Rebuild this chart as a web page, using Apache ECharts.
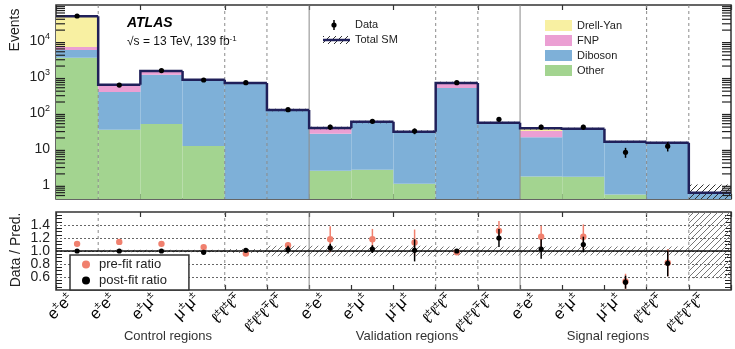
<!DOCTYPE html>
<html>
<head>
<meta charset="utf-8">
<script src="https://cdn.jsdelivr.net/npm/echarts@6/dist/echarts.min.js"></script>
<style>
html, body { margin: 0; padding: 0; background: #fff; }
#chart { width: 735px; height: 349px; }
</style>
</head>
<body>
<div id="chart"></div>
<script>
// bins: 6 control, 5 validation, 5 signal regions
var binLabels = ['e±e±', 'e±e±', 'e±μ±', 'μ±μ±', 'ℓ±ℓ±ℓ∓', 'ℓ±ℓ±ℓ∓ℓ∓',
                 'e±e±', 'e±μ±', 'μ±μ±', 'ℓ±ℓ±ℓ∓', 'ℓ±ℓ±ℓ∓ℓ∓',
                 'e±e±', 'e±μ±', 'μ±μ±', 'ℓ±ℓ±ℓ∓', 'ℓ±ℓ±ℓ∓ℓ∓'];
var regionNames = ['Control regions', 'Validation regions', 'Signal regions'];

// stacked backgrounds (events)
var other    = [3400, 34, 49, 12, 0.2, 0.1, 2.45, 2.6, 1.07, 0.3, 0.2, 1.7, 1.67, 0.53, 0.2, 0.02];
var diboson  = [2200, 346, 1090, 758, 640, 115, 23.5, 50.4, 26.9, 490, 49.8, 19.3, 32.3, 14.6, 14.2, 0.58];
var fnp      = [1200, 220, 330, 60, 40, 5, 12, 3, 2, 190, 3, 10, 2, 0.5, 0.3, 0];
var drellYan = [42200, 0, 0, 0, 0, 0, 0, 0, 0, 0, 0, 6, 0, 0, 0, 0];

// observed data
var dataEvents  = [49500, 590, 1500, 820, 690, 122, 40, 58, 31, 690, 66, 40, 40, 8, 11.8, null];
var dataErrUp   = [220, 24, 39, 29, 26, 11, 6.3, 7.6, 5.6, 26, 8.1, 6.3, 6.3, 2.6, 3.6, null];
var dataErrDown = [220, 24, 39, 29, 26, 11, 6.3, 7.6, 5.6, 26, 8.1, 6.3, 6.3, 2.4, 3.4, null];

// relative uncertainty of total SM
var uncUp   = [0.01, 0.02, 0.02, 0.02, 0.03, 0.08, 0.08, 0.08, 0.08, 0.07, 0.07, 0.07, 0.07, 0.07, 0.07, 0.7];
var uncDown = [0.01, 0.02, 0.02, 0.02, 0.03, 0.08, 0.08, 0.08, 0.08, 0.07, 0.07, 0.07, 0.07, 0.07, 0.07, 0.42];

// ratio panel
var preFitRatio  = [1.11, 1.14, 1.11, 1.06, 0.96, 1.09, 1.18, 1.18, 1.13, 0.98, 1.31, 1.22, 1.22, 0.53, 0.82, null];
var preFitErr    = [0.01, 0.02, 0.02, 0.02, 0.02, 0.05, 0.2, 0.16, 0.2, 0.03, 0.15, 0.17, 0.19, 0.12, 0.21, null];
var postFitRatio = [1.0, 1.0, 1.0, 0.98, 1.01, 1.02, 1.05, 1.03, 1.01, 1.0, 1.2, 1.03, 1.1, 0.52, 0.81, null];
var postFitErr   = [0.01, 0.02, 0.01, 0.02, 0.02, 0.06, 0.06, 0.06, 0.17, 0.02, 0.14, 0.15, 0.12, 0.1, 0.2, null];

// bin edges with separators
var dashedEdges = [1, 4, 5, 9, 10, 14, 15];
var solidEdges = [6, 11];

var FONT = '"Liberation Sans", Arial, Helvetica, sans-serif';
var yMin = 0.4, yMax = 1e5;
var chart = echarts.init(document.getElementById('chart'));

function hatch(color) {
    var c = document.createElement('canvas');
    c.width = 6; c.height = 6;
    var g = c.getContext('2d');
    g.strokeStyle = color;
    g.lineWidth = 1;
    g.beginPath();
    g.moveTo(0, 6); g.lineTo(6, 0);
    g.moveTo(-1, 1); g.lineTo(1, -1);
    g.moveTo(5, 7); g.lineTo(7, 5);
    g.stroke();
    return { image: c, repeat: 'repeat' };
}
var hatchTop = hatch('#333');
var hatchRatio = hatch('#777');

function richLabel(s) {
    var out = '';
    for (var ch of s) {
        out += (ch === '±' || ch === '∓') ? '{s|' + ch + '}' : '{b|' + ch + '}';
    }
    return out;
}

function stackSeries(name, lo, hi, color) {
    return {
        type: 'custom', name: name, xAxisIndex: 0, yAxisIndex: 0, z: 2,
        itemStyle: { color: color },
        encode: { x: 0, y: 2 },
        data: lo.map(function (v, i) { return [i, v, hi[i]]; }),
        renderItem: function (params, api) {
            var i = api.value(0), l = api.value(1), h = api.value(2);
            if (!(h > l) || h <= yMin) return;
            var cs = params.coordSys;
            var w = api.size([1, 0], [i, h])[0];
            var p = api.coord([i, h]);
            var yb = l > yMin ? api.coord([i, l])[1] : cs.y + cs.height;
            var yt = Math.max(p[1], cs.y);
            return { type: 'rect', shape: { x: p[0] - w / 2, y: yt, width: w, height: yb - yt }, style: { fill: color } };
        }
    };
}

var series = [];
var stackOrder = [['Other', other, '#a3d490'], ['Diboson', diboson, '#7eb0d8'],
                  ['FNP', fnp, '#eb9fd3'], ['Drell-Yan', drellYan, '#f8f0a2']];
var cum = binLabels.map(function () { return 0; });
stackOrder.forEach(function (s) {
    var lo = cum.slice();
    var hi = lo.map(function (v, i) { return v + s[1][i]; });
    series.push(stackSeries(s[0], lo, hi, s[2]));
    cum = hi;
});
var totalSM = cum;

function separators(xi, yi, yRef) {
    var d = dashedEdges.map(function (e) { return [e, yRef, 0]; })
        .concat(solidEdges.map(function (e) { return [e, yRef, 1]; }));
    return {
        type: 'custom', xAxisIndex: xi, yAxisIndex: yi, z: 3, silent: true,
        encode: { x: 0, y: 1 }, data: d,
        renderItem: function (params, api) {
            var cs = params.coordSys;
            var e = api.value(0), solid = api.value(2);
            var w = api.size([1, 0], [e, yRef])[0];
            var x = api.coord([e, yRef])[0] - w / 2;
            return { type: 'line', shape: { x1: x, y1: cs.y, x2: x, y2: cs.y + cs.height },
                style: { stroke: solid ? '#888' : '#8a8a8a', lineWidth: 1, lineDash: solid ? null : [3, 3] } };
        }
    };
}
series.push(separators(0, 0, 1));
series.push(separators(2, 2, 1));

// total SM line with hatched uncertainty
series.push({
    type: 'custom', name: 'Total SM', xAxisIndex: 0, yAxisIndex: 0, z: 4,
    encode: { x: 0, y: 1 },
    data: totalSM.map(function (t, i) {
        return [i, t, i > 0 ? totalSM[i - 1] : t, t * (1 - uncDown[i]), t * (1 + uncUp[i])];
    }),
    renderItem: function (params, api) {
        var cs = params.coordSys;
        var i = api.value(0), t = api.value(1), prev = api.value(2), lo = api.value(3), hi = api.value(4);
        var w = api.size([1, 0], [i, t])[0];
        var p = api.coord([i, t]);
        var yp = Math.min(api.coord([i, prev])[1], cs.y + cs.height);
        var y = Math.min(p[1], cs.y + cs.height);
        var ylo = lo > yMin ? api.coord([i, lo])[1] : cs.y + cs.height;
        var yhi = Math.max(api.coord([i, hi])[1], cs.y);
        var xl = p[0] - w / 2;
        return { type: 'group', children: [
            { type: 'rect', shape: { x: xl, y: yhi, width: w, height: ylo - yhi }, style: { fill: hatchTop } },
            { type: 'polyline', shape: { points: [[xl, yp], [xl, y], [xl + w, y]] },
              style: { stroke: '#20205a', lineWidth: 2.5, fill: null } }
        ] };
    }
});

// data points
series.push({
    type: 'custom', name: 'Data', xAxisIndex: 0, yAxisIndex: 0, z: 5,
    itemStyle: { color: '#000' }, encode: { x: 0, y: 1 },
    data: dataEvents.map(function (v, i) {
        return v == null ? [i, '-', '-', '-'] : [i, v, v - dataErrDown[i], v + dataErrUp[i]];
    }),
    renderItem: function (params, api) {
        var v = api.value(1);
        if (isNaN(v)) return;
        var i = api.value(0);
        var p = api.coord([i, v]), lo = api.coord([i, api.value(2)]), hi = api.coord([i, api.value(3)]);
        return { type: 'group', children: [
            { type: 'line', shape: { x1: p[0], y1: lo[1], x2: p[0], y2: hi[1] }, style: { stroke: '#000', lineWidth: 1.5 } },
            { type: 'circle', shape: { cx: p[0], cy: p[1], r: 2.6 }, style: { fill: '#000' } }
        ] };
    }
});

// minor ticks on the log axis
var minorVals = [];
for (var k = -1; k <= 4; k++) {
    for (var m = 2; m <= 9; m++) {
        var v = m * Math.pow(10, k);
        if (v > yMin && v < yMax) minorVals.push(v);
    }
}
series.push({
    type: 'custom', xAxisIndex: 0, yAxisIndex: 0, z: 6, silent: true,
    encode: { x: 0, y: 1 },
    data: minorVals.map(function (v) { return [0, v]; }),
    renderItem: function (params, api) {
        var cs = params.coordSys;
        var y = api.coord([0, api.value(1)])[1];
        return { type: 'group', children: [
            { type: 'line', shape: { x1: cs.x, y1: y, x2: cs.x + 9, y2: y }, style: { stroke: '#222', lineWidth: 1.2 } },
            { type: 'line', shape: { x1: cs.x + cs.width - 9, y1: y, x2: cs.x + cs.width, y2: y }, style: { stroke: '#222', lineWidth: 1.2 } }
        ] };
    }
});

// ratio band
series.push({
    type: 'custom', xAxisIndex: 2, yAxisIndex: 2, z: 2, silent: true,
    encode: { x: 0, y: 1 },
    data: uncUp.map(function (u, i) { return [i, 1 - uncDown[i], 1 + u]; }),
    renderItem: function (params, api) {
        var cs = params.coordSys;
        var i = api.value(0);
        var w = api.size([1, 0], [i, 1])[0];
        var lo = api.coord([i, api.value(1)]), hi = api.coord([i, api.value(2)]);
        var yb = Math.min(lo[1], cs.y + cs.height), yt = Math.max(hi[1], cs.y);
        return { type: 'rect', shape: { x: lo[0] - w / 2, y: yt, width: w, height: yb - yt }, style: { fill: hatchRatio } };
    },
    markLine: {
        silent: true, symbol: 'none', label: { show: false },
        lineStyle: { color: '#111', width: 1.5, type: 'solid' },
        data: [{ yAxis: 1 }]
    }
});

function ratioSeries(name, vals, errs, color, r) {
    return {
        type: 'custom', name: name, xAxisIndex: 2, yAxisIndex: 2, z: 5,
        itemStyle: { color: color }, encode: { x: 0, y: 1 },
        data: vals.map(function (v, i) {
            return v == null ? [i, '-', '-', '-'] : [i, v, v - errs[i], v + errs[i]];
        }),
        renderItem: function (params, api) {
            var v = api.value(1);
            if (isNaN(v)) return;
            var cs = params.coordSys;
            var i = api.value(0);
            var p = api.coord([i, v]), lo = api.coord([i, api.value(2)]), hi = api.coord([i, api.value(3)]);
            return { type: 'group', children: [
                { type: 'line', shape: { x1: p[0], y1: Math.min(lo[1], cs.y + cs.height), x2: p[0], y2: Math.max(hi[1], cs.y) },
                  style: { stroke: color, lineWidth: 1.5 } },
                { type: 'circle', shape: { cx: p[0], cy: p[1], r: r }, style: { fill: color } }
            ] };
        }
    };
}
series.push(ratioSeries('pre-fit ratio', preFitRatio, preFitErr, '#f0806e', 3.2));
series.push(ratioSeries('post-fit ratio', postFitRatio, postFitErr, '#000', 2.6));

function catAxis(grid, pos, labels) {
    return {
        type: 'category', gridIndex: grid, position: pos, data: binLabels,
        boundaryGap: true,
        axisLine: { show: false },
        axisTick: { show: true, inside: true, length: 5, lineStyle: { color: '#333', width: 1.2 } },
        splitLine: { show: false },
        axisLabel: labels ? {
            show: true, rotate: 45, margin: -1, interval: 0, padding: [0, 10, 0, 0],
            formatter: function (s) { return richLabel(s); },
            rich: {
                b: { fontFamily: FONT, fontSize: 16, color: '#000', lineHeight: 18, verticalAlign: 'bottom' },
                s: { fontFamily: FONT, fontSize: 10, color: '#000', lineHeight: 18, verticalAlign: 'top', padding: [0, 0, 6, 0] }
            }
        } : { show: false }
    };
}

function supNum(v) {
    var e = Math.round(Math.log10(v));
    if (e === 0) return '1';
    if (e === 1) return '10';
    return '10{s|' + e + '}';
}

var option = {
    animation: false,
    grid: [
        { left: 56, top: 5, width: 675, height: 194, show: true, borderColor: '#333', borderWidth: 1.5, backgroundColor: '#fff' },
        { left: 56, top: 212, width: 675, height: 78, show: true, borderColor: '#333', borderWidth: 1.5, backgroundColor: '#fff' }
    ],
    xAxis: [catAxis(0, 'bottom', false), catAxis(0, 'top', false), catAxis(1, 'bottom', true), catAxis(1, 'top', false)],
    yAxis: [
        {
            type: 'log', gridIndex: 0, position: 'left', min: yMin, max: yMax,
            axisLine: { show: false },
            axisTick: { inside: true, length: 18, lineStyle: { color: '#222', width: 1.4 } },
            splitLine: { show: false },
            axisLabel: {
                showMinLabel: false, showMaxLabel: false, margin: 6,
                formatter: supNum,
                fontFamily: FONT, fontSize: 14, color: '#222',
                rich: { s: { fontFamily: FONT, fontSize: 9, color: '#222', verticalAlign: 'top', padding: [0, 0, 8, 0] } }
            }
        },
        {
            type: 'log', gridIndex: 0, position: 'right', min: yMin, max: yMax,
            axisLine: { show: false },
            axisTick: { inside: true, length: 18, lineStyle: { color: '#222', width: 1.4 } },
            splitLine: { show: false }, axisLabel: { show: false }
        },
        {
            type: 'value', gridIndex: 1, position: 'left', min: 0.4, max: 1.6, interval: 0.2,
            axisLine: { show: false },
            axisTick: { inside: true, length: 12, lineStyle: { color: '#222', width: 1.4 } },
            minorTick: { show: true, splitNumber: 4, length: 6, lineStyle: { color: '#222', width: 1 } },
            splitLine: { show: true, lineStyle: { color: '#666', type: [2, 2], width: 1 } },
            axisLabel: {
                showMinLabel: false, showMaxLabel: false, margin: 6,
                formatter: function (v) { return v.toFixed(1); },
                fontFamily: FONT, fontSize: 14, color: '#222', lineHeight: 13
            }
        },
        {
            type: 'value', gridIndex: 1, position: 'right', min: 0.4, max: 1.6, interval: 0.2,
            axisLine: { show: false },
            axisTick: { inside: true, length: 12, lineStyle: { color: '#222', width: 1.4 } },
            minorTick: { show: true, splitNumber: 4, length: 6, lineStyle: { color: '#222', width: 1 } },
            splitLine: { show: false }, axisLabel: { show: false }
        }
    ],
    legend: [
        {
            left: 545, top: 20, orient: 'vertical', itemWidth: 27, itemHeight: 11, itemGap: 4,
            selectedMode: false, padding: 0, icon: 'rect',
            textStyle: { fontFamily: FONT, fontSize: 11, color: '#222' },
            data: ['Drell-Yan', 'FNP', 'Diboson', 'Other']
        },
        {
            left: 70, top: 255, orient: 'vertical', itemWidth: 8, itemHeight: 8, itemGap: 3,
            selectedMode: false, icon: 'circle', padding: [3, 22, 3, 12],
            borderColor: '#333', borderWidth: 1.5, backgroundColor: '#fff', z: 10,
            textStyle: { fontFamily: FONT, fontSize: 13, color: '#222', padding: [0, 0, 0, 4] },
            data: ['pre-fit ratio', 'post-fit ratio']
        }
    ],
    graphic: [
        { type: 'text', x: 15, y: 30, rotation: Math.PI / 2, style: { text: 'Events', font: '14px ' + FONT, fill: '#222', align: 'center', verticalAlign: 'middle' } },
        { type: 'text', x: 16, y: 250, rotation: Math.PI / 2, style: { text: 'Data / Pred.', font: '14px ' + FONT, fill: '#222', align: 'center', verticalAlign: 'middle' } },
        { type: 'text', x: 127, y: 23, style: { text: 'ATLAS', font: 'italic bold 14px ' + FONT, fill: '#000', verticalAlign: 'middle' } },
        { type: 'text', x: 127, y: 42, style: { text: '√s = 13 TeV, 139 fb{s|-1}', font: '12px ' + FONT, fill: '#111', verticalAlign: 'middle',
            rich: { s: { fontSize: 8, fontFamily: FONT, fill: '#111', verticalAlign: 'top', padding: [0, 0, 7, 0] } } } },
        { type: 'line', shape: { x1: 334, y1: 20, x2: 334, y2: 30 }, style: { stroke: '#000', lineWidth: 1.5 } },
        { type: 'circle', shape: { cx: 334, cy: 25, r: 2.6 }, style: { fill: '#000' } },
        { type: 'text', x: 355, y: 25, style: { text: 'Data', font: '11px ' + FONT, fill: '#222', verticalAlign: 'middle' } },
        { type: 'rect', shape: { x: 323, y: 36, width: 27, height: 8 }, style: { fill: hatchTop } },
        { type: 'line', shape: { x1: 323, y1: 40, x2: 350, y2: 40 }, style: { stroke: '#20205a', lineWidth: 2.5 } },
        { type: 'text', x: 355, y: 40, style: { text: 'Total SM', font: '11px ' + FONT, fill: '#222', verticalAlign: 'middle' } },
        { type: 'text', x: 168, y: 336, style: { text: regionNames[0], font: '13px ' + FONT, fill: '#333', align: 'center', verticalAlign: 'middle' } },
        { type: 'text', x: 407, y: 336, style: { text: regionNames[1], font: '13px ' + FONT, fill: '#333', align: 'center', verticalAlign: 'middle' } },
        { type: 'text', x: 608, y: 336, style: { text: regionNames[2], font: '13px ' + FONT, fill: '#333', align: 'center', verticalAlign: 'middle' } }
    ],
    series: series
};
chart.setOption(option);
</script>
</body>
</html>
